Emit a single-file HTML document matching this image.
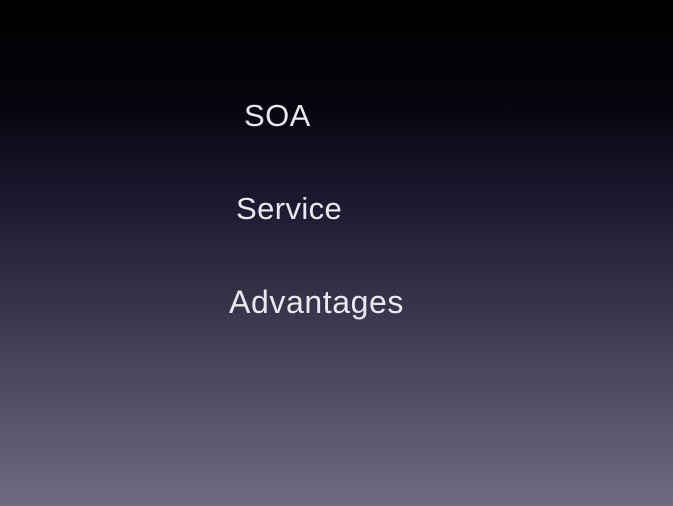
<!DOCTYPE html>
<html><head><meta charset="utf-8"><style>
html,body{margin:0;padding:0}
body{width:673px;height:506px;overflow:hidden;position:relative;
background:linear-gradient(to bottom,#000000 0px,#05040c 100px,#1b1930 200px,#363349 300px,#514e66 400px,#6f6b83 506px);
font-family:"Liberation Sans",sans-serif;color:#e8e8ee}
.t{position:absolute;font-size:31px;line-height:1;white-space:nowrap;letter-spacing:0.4px}
</style></head><body>
<div class="t" style="left:244px;top:100px">SOA</div>
<div class="t" style="left:236px;top:193px">Service</div>
<div class="t" style="left:229px;top:286px;font-size:32px;letter-spacing:0.6px">Advantages</div>
</body></html>
